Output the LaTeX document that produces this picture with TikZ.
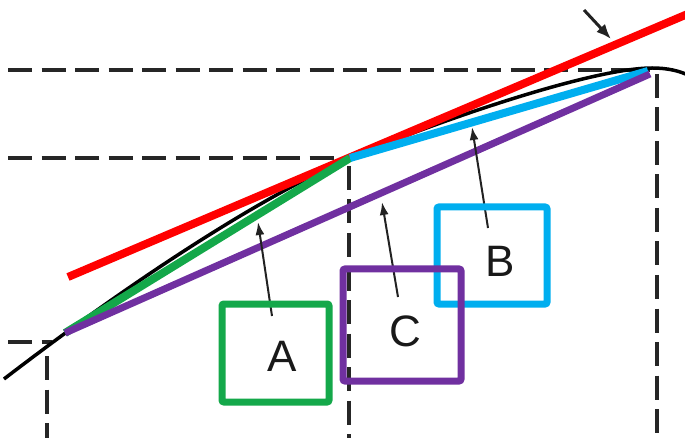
\documentclass[tikz,border=0pt]{standalone}
\usepackage{fontspec}
\setmainfont{Liberation Sans}
\usetikzlibrary{arrows.meta}
\definecolor{cgreen}{HTML}{14A84A}
\definecolor{cblue}{HTML}{00AEEF}
\definecolor{cpurple}{HTML}{7030A0}
\definecolor{cred}{HTML}{FF0000}
\definecolor{cdark}{HTML}{222222}
\begin{document}
\begin{tikzpicture}[x=1pt,y=-1pt,
  guide/.style={line width=3.5pt, black!85, dash pattern=on 24pt off 9.5pt},
  curve/.style={line width=3.5pt, black},
  seg/.style={line width=8pt, line cap=butt},
  pointer/.style={line width=2pt, cdark, -{Latex[length=13pt,width=9pt]}},
  bigpointer/.style={line width=3pt, cdark, -{Latex[length=15pt,width=12pt]}},
  box/.style={line width=7pt, rounded corners=2pt, inner sep=0pt},
  letter/.style={font=\fontsize{44}{44}\selectfont, text=black!90, inner sep=0pt}
]
\useasboundingbox (0,0) rectangle (685,438);

% key points
\coordinate (P0) at (65,333);
\coordinate (P1) at (350,158);
\coordinate (P2) at (648,71);
\coordinate (Q2) at (650,74);
\coordinate (R0) at (68,277);
\coordinate (R1) at (690,13);

% dashed guides
\coordinate (h1a) at (8,70);   \coordinate (h1b) at (650,70);
\coordinate (h2a) at (8,158);  \coordinate (h2b) at (345,158);
\coordinate (h3a) at (8,342);  \coordinate (h3b) at (52,342);
\coordinate (v1a) at (47,356); \coordinate (v1b) at (47,440);
\coordinate (v2a) at (349,166); \coordinate (v2b) at (349,440);
\coordinate (v3a) at (657,74); \coordinate (v3b) at (657,440);
\draw[guide] (h1a) -- (h1b);
\draw[guide] (h2a) -- (h2b);
\draw[guide] (h3a) -- (h3b);
\draw[guide] (v1a) -- (v1b);
\draw[guide] (v2a) -- (v2b);
\draw[guide] (v3a) -- (v3b);

% black curve
\coordinate (C0) at (4,379);
\coordinate (C3) at (652,68);
\coordinate (C4) at (690,76);
\draw[curve] (C0) .. controls (120,290) and (250,202) .. (P1)
  .. controls (430,124) and (590,68) .. (C3)
  .. controls (668,68) and (680,71) .. (C4);

% coloured lines
\draw[seg, cred] (R0) -- (R1);
\draw[seg, cgreen] (P0) -- (P1);
\draw[seg, cblue] (P1) -- (P2);
\draw[seg, cpurple, line width=7pt] (P0) -- (Q2);

% pointer arrows
\coordinate (a0) at (272,316); \coordinate (a1) at (258,222);
\coordinate (c0) at (398,297); \coordinate (c1) at (382,202);
\coordinate (b0) at (488,228); \coordinate (b1) at (472,127);
\coordinate (t0) at (584,10);  \coordinate (t1) at (611,39);
\draw[pointer] (a0) -- (a1);
\draw[pointer] (c0) -- (c1);
\draw[pointer] (b0) -- (b1);
\draw[bigpointer] (t0) -- (t1);

% boxes
\node[box, draw=cblue, minimum width=110pt, minimum height=97pt] (boxB) at (492,255.5) {};
\node[box, draw=cgreen, minimum width=107pt, minimum height=98pt] (boxA) at (275.5,353) {};
\node[box, draw=cpurple, minimum width=118pt, minimum height=112pt] (boxC) at (402,325) {};

\node[letter] (lA) at (282,356) {A};
\node[letter] (lB) at (500,261) {B};
\node[letter] (lC) at (405,331) {C};
\end{tikzpicture}
\end{document}
